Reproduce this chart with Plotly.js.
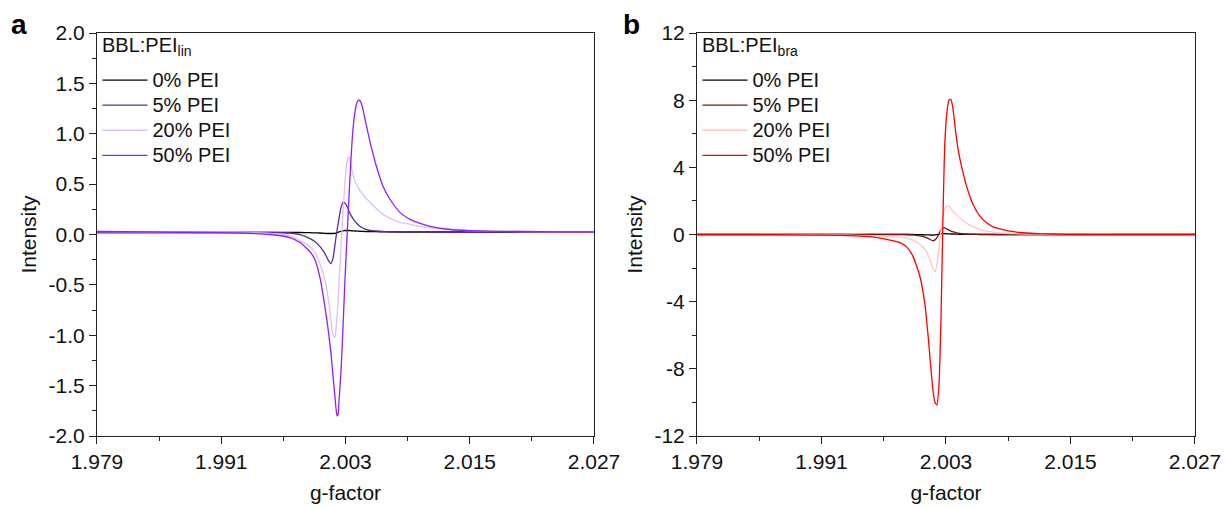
<!DOCTYPE html>
<html>
<head>
<meta charset="utf-8">
<script src="https://cdn.plot.ly/plotly-3.0.1.min.js"></script>
<style>html,body{margin:0;padding:0;background:#fff}#chart{width:1226px;height:508px}</style>
</head>
<body>
<div id="chart"></div>
<script>
// Panel a: BBL:PEI_lin
const gA = [1.97900,1.98412,1.98895,1.99281,1.99571,1.99764,1.99861,1.99957,2.00005,2.00054,2.00102,2.00131,2.00160,2.00179,2.00199,2.00208,2.00218,2.00228,2.00237,2.00257,2.00276,2.00295,2.00315,2.00334,2.00353,2.00372,2.00392,2.00411,2.00430,2.00450,2.00469,2.00498,2.00537,2.00595,2.00662,2.00730,2.00826,2.00923,2.01020,2.01116,2.01309,2.01599,2.01985,2.02372,2.02700];
const a0  = [0.02,0.02,0.02,0.02,0.02,0.02,0.02,0.018,0.016,0.015,0.012,0.01,0.01,0.01,0.012,0.015,0.018,0.022,0.026,0.032,0.037,0.04,0.04,0.04,0.038,0.036,0.035,0.034,0.033,0.032,0.031,0.03,0.03,0.028,0.027,0.026,0.025,0.025,0.025,0.025,0.025,0.025,0.025,0.025,0.025];
const a5  = [0.02,0.02,0.02,0.02,0.02,0.015,0.0,-0.04,-0.07,-0.12,-0.19,-0.25,-0.29,-0.24,-0.10,-0.03,0.04,0.10,0.16,0.27,0.32,0.31,0.28,0.23,0.19,0.16,0.13,0.11,0.09,0.075,0.065,0.05,0.04,0.035,0.03,0.025,0.025,0.025,0.025,0.025,0.025,0.025,0.025,0.025,0.025];
const a20 = [0.03,0.025,0.02,0.02,0.012,-0.01,-0.06,-0.12,-0.18,-0.29,-0.45,-0.62,-0.85,-1.00,-1.02,-0.94,-0.82,-0.66,-0.48,-0.12,0.22,0.52,0.73,0.77,0.69,0.60,0.53,0.49,0.45,0.42,0.40,0.36,0.32,0.26,0.20,0.16,0.12,0.10,0.08,0.065,0.05,0.035,0.03,0.025,0.025];
const a50 = [0.03,0.025,0.02,0.015,0.0,-0.03,-0.08,-0.17,-0.25,-0.43,-0.72,-0.93,-1.18,-1.40,-1.62,-1.72,-1.80,-1.79,-1.66,-1.35,-0.92,-0.45,-0.02,0.38,0.75,1.04,1.22,1.31,1.335,1.31,1.24,1.10,0.92,0.69,0.48,0.35,0.22,0.15,0.11,0.08,0.05,0.035,0.03,0.025,0.025];

// Panel b: BBL:PEI_bra
const gB = [1.97900,1.98411,1.98893,1.99278,1.99567,1.99760,1.99857,1.99924,1.99982,2.00049,2.00098,2.00127,2.00155,2.00175,2.00194,2.00213,2.00233,2.00242,2.00252,2.00261,2.00271,2.00281,2.00290,2.00310,2.00329,2.00348,2.00367,2.00387,2.00416,2.00454,2.00502,2.00560,2.00628,2.00695,2.00753,2.00821,2.00917,2.01013,2.01158,2.01302,2.01592,2.01977,2.02363,2.02700];
const b0  = [0,0,0,0,0,0,0,0,0,-0.01,-0.02,-0.02,-0.03,-0.03,-0.02,0.0,0.02,0.03,0.04,0.05,0.05,0.05,0.05,0.04,0.04,0.03,0.03,0.02,0.02,0.01,0.01,0.01,0,0,0,0,0,0,0,0,0,0,0,0];
const b5  = [0,0,0,0,0,0.01,0.01,0.0,-0.02,-0.08,-0.16,-0.23,-0.32,-0.37,-0.32,-0.18,0.05,0.18,0.28,0.35,0.40,0.41,0.39,0.32,0.26,0.2,0.16,0.12,0.08,0.05,0.03,0.02,0.01,0.01,0,0,0,0,0,0,0,0,0,0];
const b20 = [0,0,-0.01,-0.03,-0.07,-0.12,-0.15,-0.22,-0.33,-0.6,-0.9,-1.2,-1.65,-2.05,-2.21,-1.75,-0.75,-0.3,0.25,0.7,1.1,1.35,1.55,1.68,1.68,1.52,1.38,1.26,1.08,0.88,0.66,0.47,0.31,0.2,0.14,0.1,0.06,0.04,0.02,0.01,0,0,0,0];
const b50 = [0,0,-0.02,-0.05,-0.13,-0.33,-0.48,-0.75,-1.3,-2.5,-4.2,-6.0,-8.0,-9.3,-10.0,-10.15,-8.9,-7.3,-5.0,-2.2,1.0,3.8,5.6,7.35,8.0,8.05,7.5,6.45,5.1,3.95,2.8,1.8,1.08,0.68,0.46,0.34,0.2,0.12,0.06,0.03,0,0,0,0];

const seriesNames = ['0% PEI','5% PEI','20% PEI','50% PEI'];
const colorsA = ['#000000','#5B2C9F','#DCC0F8','#8F1FFF'];
const colorsB = ['#000000','#7A1414','#FFC4C4','#FF0000'];
const xTicks = [1.979,1.991,2.003,2.015,2.027];
const xTickText = ['1.979','1.991','2.003','2.015','2.027'];
const yTicksA = [-2,-1.5,-1,-0.5,0,0.5,1,1.5,2];
const yTickTextA = ['-2.0','-1.5','-1.0','-0.5','0.0','0.5','1.0','1.5','2.0'];
const yTicksB = [-12,-8,-4,0,4,8,12];
const yTickTextB = ['-12','-8','-4','0','4','8','12'];

const FONT = 'Liberation Sans, Arial, sans-serif';
const FS = 21;
const ysA = [a0,a5,a20,a50];
const ysB = [b0,b5,b20,b50];
const legName = n => '<span style="font-size:20px">' + n + '</span>';
const traces = [];
ysA.forEach((y,i)=>traces.push({x:gA,y:y,type:'scatter',mode:'lines',name:legName(seriesNames[i]),
  line:{color:colorsA[i],width:1.3,shape:'spline',smoothing:0.5},xaxis:'x',yaxis:'y',legend:'legend'}));
ysB.forEach((y,i)=>traces.push({x:gB,y:y,type:'scatter',mode:'lines',name:legName(seriesNames[i]),
  line:{color:colorsB[i],width:1.3,shape:'spline',smoothing:0.5},xaxis:'x2',yaxis:'y2',legend:'legend2'}));

function xax(domain){
  return {domain:domain,range:[1.979,2.027],tickmode:'array',tickvals:xTicks,ticktext:xTickText,
    ticks:'outside',ticklen:7,tickwidth:1,tickcolor:'#222',showline:true,linecolor:'#222',linewidth:1,mirror:true,
    showgrid:false,zeroline:false,tickfont:{size:FS,color:'#111',family:FONT},
    minor:{ticks:'outside',ticklen:4,tickcolor:'#222',tickvals:[1.985,1.997,2.009,2.021],showgrid:false},
    title:{text:'g-factor',font:{size:FS,color:'#111',family:FONT},standoff:13}};
}
function yax(range,tv,tt,anchor,minorD){
  return {domain:[0.1417,0.935],range:range,tickmode:'array',tickvals:tv,ticktext:tt,anchor:anchor,
    ticks:'outside',ticklen:7,tickwidth:1,tickcolor:'#222',showline:true,linecolor:'#222',linewidth:1,mirror:true,
    showgrid:false,zeroline:false,tickfont:{size:FS,color:'#111',family:FONT},
    minor:{ticks:'outside',ticklen:4,tickcolor:'#222',dtick:minorD,tick0:0,showgrid:false},
    title:{text:'Intensity',font:{size:FS,color:'#111',family:FONT},standoff:6}};
}
const legendBase = {bgcolor:'rgba(0,0,0,0)',borderwidth:0,font:{size:17,color:'#111',family:FONT},
  yanchor:'top',xanchor:'left',itemwidth:45,tracegroupgap:0};
const layout = {
  width:1226,height:508,margin:{l:0,r:0,t:0,b:0},paper_bgcolor:'#fff',plot_bgcolor:'#fff',
  font:{family:FONT},
  xaxis:Object.assign(xax([0.0791,0.4845]),{anchor:'y'}),
  yaxis:yax([-2,2],yTicksA,yTickTextA,'x',0.25),
  xaxis2:Object.assign(xax([0.5685,0.9747]),{anchor:'y2'}),
  yaxis2:yax([-12,12],yTicksB,yTickTextB,'x2',2),
  legend:Object.assign({},legendBase,{x:0.0795,y:0.877}),
  legend2:Object.assign({},legendBase,{x:0.5689,y:0.877}),
  showlegend:true,
  annotations:[
    {text:'<b>a</b>',x:0.0155,y:0.952,xref:'paper',yref:'paper',xanchor:'center',yanchor:'middle',showarrow:false,font:{size:28,family:FONT,color:'#000'}},
    {text:'<b>b</b>',x:0.5147,y:0.952,xref:'paper',yref:'paper',xanchor:'center',yanchor:'middle',showarrow:false,font:{size:28,family:FONT,color:'#000'}},
    {text:'BBL:PEI<sub>lin</sub>',x:0.0815,y:0.937,xref:'paper',yref:'paper',xanchor:'left',yanchor:'top',showarrow:false,font:{size:20,family:FONT,color:'#111'}},
    {text:'BBL:PEI<sub>bra</sub>',x:0.5709,y:0.937,xref:'paper',yref:'paper',xanchor:'left',yanchor:'top',showarrow:false,font:{size:20,family:FONT,color:'#111'}}
  ]
};
Plotly.newPlot('chart',traces,layout,{displayModeBar:false,staticPlot:true});
</script>
</body>
</html>
